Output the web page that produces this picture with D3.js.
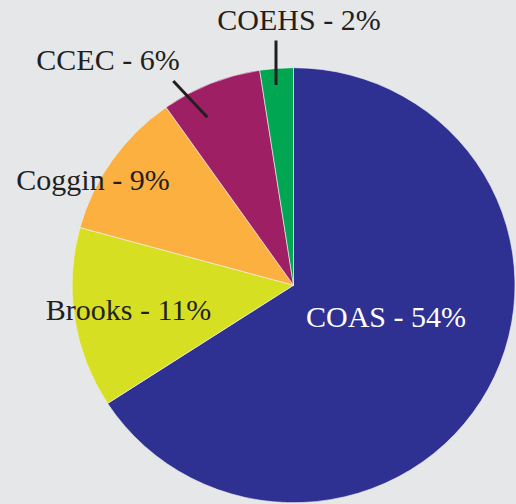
<!DOCTYPE html>
<html>
<head>
<meta charset="utf-8">
<script src="https://cdn.jsdelivr.net/npm/d3@7"></script>
<style>
  html, body { margin: 0; padding: 0; background: #e6e7e8; }
  svg { display: block; }
</style>
</head>
<body>
<div id="chart"></div>
<script>
// data
const colleges = ["COAS", "Brooks", "Coggin", "CCEC", "COEHS"];
const shares = [54, 11, 9, 6, 2];
const colors = ["#2e3192", "#d7df23", "#fbb040", "#9e1f63", "#00a651"];

const width = 516, height = 504;
const cx = 293.5, cy = 285.2;
const ry = 217.5, stretchX = 221.5 / 217.5; // pie is slightly wider than tall

// hand placed labels (center x, baseline y) + leader lines
const labelLayout = {
  COAS:   { x: 386, y: 327, fill: "#fff" },
  Brooks: { x: 128.5, y: 320 },
  Coggin: { x: 93, y: 189.5 },
  CCEC:   { x: 108, y: 69.5, line: [[173.3, 81], [207.3, 117.3]] },
  COEHS:  { x: 299, y: 29.5, line: [[276, 40.5], [276, 85]] }
};

const svg = d3.select("#chart")
  .append("svg")
  .attr("width", width)
  .attr("height", height)
  .style("background", "#e6e7e8");

const pie = d3.pie().sort(null).value(d => d)(shares);
const arc = d3.arc().innerRadius(0).outerRadius(ry);

const g = svg.append("g")
  .attr("transform", `translate(${cx},${cy}) scale(${stretchX},1)`);

g.selectAll("path")
  .data(pie)
  .join("path")
  .attr("d", arc)
  .attr("fill", (d, i) => colors[i])
  .attr("stroke", "#f4f4f4")
  .attr("stroke-width", 0.6);

// leader lines
colleges.forEach(name => {
  const l = labelLayout[name].line;
  if (!l) return;
  svg.append("line")
    .attr("x1", l[0][0]).attr("y1", l[0][1])
    .attr("x2", l[1][0]).attr("y2", l[1][1])
    .attr("stroke", "#231f20")
    .attr("stroke-width", 3);
});

// labels
svg.selectAll("text.lbl")
  .data(colleges)
  .join("text")
  .attr("class", "lbl")
  .attr("x", d => labelLayout[d].x)
  .attr("y", d => labelLayout[d].y)
  .attr("text-anchor", "middle")
  .attr("font-family", "'Liberation Serif', 'DejaVu Serif', serif")
  .attr("font-size", "30px")
  .attr("fill", d => labelLayout[d].fill || "#231f20")
  .text((d, i) => `${d} - ${shares[i]}%`);
</script>
</body>
</html>
